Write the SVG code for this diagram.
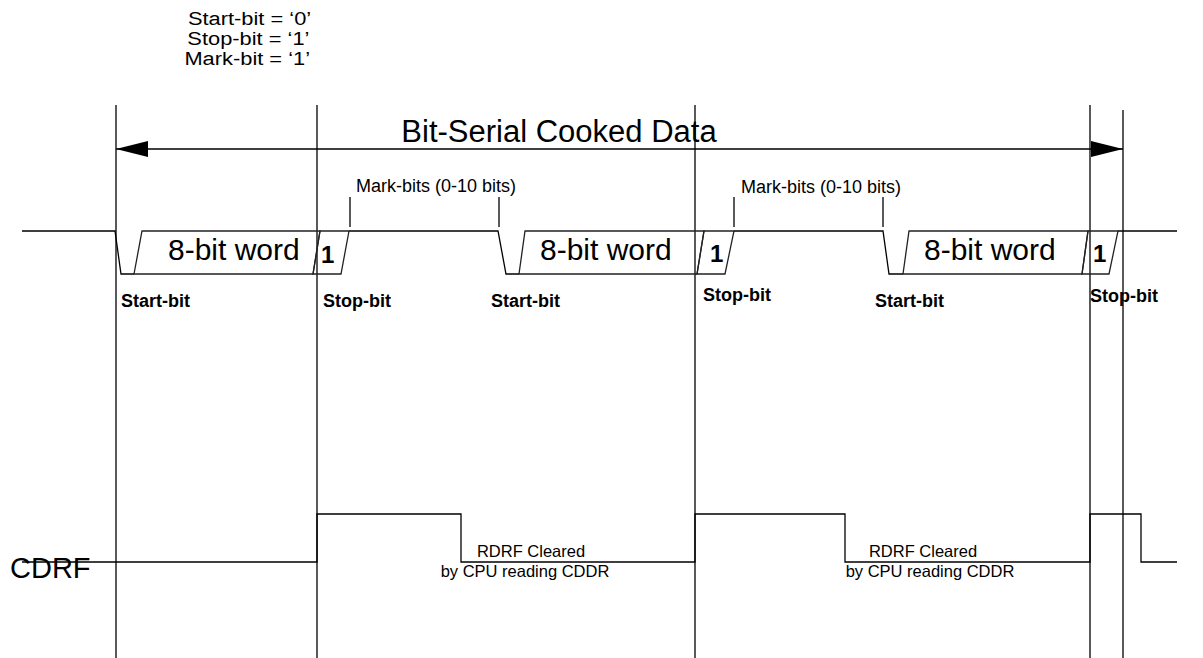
<svg xmlns="http://www.w3.org/2000/svg" width="1203" height="658" viewBox="0 0 1203 658">
<style>
.ln{fill:none;stroke:#000;stroke-width:1.3}
.bx{fill:none;stroke:#222;stroke-width:1.3;stroke-linejoin:miter}
.lb{font-family:"Liberation Sans",Arial,sans-serif;fill:#000}
.big{font-size:30px}
.bold{font-weight:bold;font-size:18px}
.sm{font-size:18px}
.mid{font-size:16.5px}
</style>
<defs>
<marker id="ah" viewBox="0 0 32 16" refX="32" refY="8" markerWidth="32" markerHeight="16" markerUnits="userSpaceOnUse" orient="auto-start-reverse">
<path d="M0,0 L32,8 L0,16 Z" fill="#000"/>
</marker>
</defs>
<rect width="1203" height="658" fill="#fff"/>
<g id="legend" class="lb" font-size="19" text-anchor="middle" transform="scale(1.15,1)">
<text x="217" y="25">Start-bit = ‘0’</text>
<text x="216" y="45">Stop-bit = ‘1’</text>
<text x="215" y="65">Mark-bit = ‘1’</text>
</g>
<g id="connectors">
<line class="ln" x1="116" y1="105" x2="116" y2="658"/>
<line class="ln" x1="317" y1="105" x2="317" y2="658"/>
<line class="ln" x1="695" y1="105" x2="695" y2="658"/>
<line class="ln" x1="1090" y1="105" x2="1090" y2="658"/>
<line class="ln" x1="1123" y1="110" x2="1123" y2="658"/>
<line class="ln" x1="116" y1="149" x2="1123" y2="149" marker-start="url(#ah)" marker-end="url(#ah)"/>
</g>
<g id="title" class="lb">
<text x="559" y="142" font-size="31" text-anchor="middle">Bit-Serial Cooked Data</text>
</g>
<g id="signal">
<path class="ln" d="M22,231 H115 L121,274 H134 M349,231 H498 L506,274 H519 M734,231 H883 L889,274 H903 M1118,231 H1177"/>
<polygon class="bx" points="142,231 320,231 313,274 134,274"/>
<polygon class="bx" points="320,231 349,231 341,274 313,274"/>
<polygon class="bx" points="525,231 704,231 697,274 519,274"/>
<polygon class="bx" points="704,231 734,231 725,274 697,274"/>
<polygon class="bx" points="909,231 1088,231 1082,274 903,274"/>
<polygon class="bx" points="1088,231 1118,231 1109,274 1082,274"/>
<line class="ln" x1="350" y1="197" x2="350" y2="227"/>
<line class="ln" x1="499" y1="197" x2="499" y2="227"/>
<line class="ln" x1="734" y1="197" x2="734" y2="227"/>
<line class="ln" x1="883" y1="197" x2="883" y2="227"/>
</g>
<g id="word1" class="lb">
<text class="big" x="168" y="260">8-bit word</text>
<text x="321" y="263" font-size="24" font-weight="bold">1</text>
<text class="bold" x="121" y="307">Start-bit</text>
<text class="bold" x="323" y="307">Stop-bit</text>
<text class="sm" x="356" y="192">Mark-bits (0-10 bits)</text>
</g>
<g id="word2" class="lb">
<text class="big" x="540" y="260">8-bit word</text>
<text x="710" y="262" font-size="24" font-weight="bold">1</text>
<text class="bold" x="491" y="307">Start-bit</text>
<text class="bold" x="703" y="301">Stop-bit</text>
<text class="sm" x="741" y="193">Mark-bits (0-10 bits)</text>
</g>
<g id="word3" class="lb">
<text class="big" x="924" y="260">8-bit word</text>
<text x="1093" y="262" font-size="24" font-weight="bold">1</text>
<text class="bold" x="875" y="307">Start-bit</text>
<text class="bold" x="1090" y="302">Stop-bit</text>
</g>
<g id="cdrf">
<text class="lb" x="10" y="578" font-size="29">CDRF</text>
<path class="ln" d="M22,562 H317 V514 H461 V562 H695 V514 H845 V562 H1090 V514 H1141 V562 H1177"/>
<text class="lb mid" x="531" y="557" text-anchor="middle">RDRF Cleared</text>
<text class="lb mid" x="525" y="577" text-anchor="middle">by CPU reading CDDR</text>
<text class="lb mid" x="923" y="557" text-anchor="middle">RDRF Cleared</text>
<text class="lb mid" x="930" y="577" text-anchor="middle">by CPU reading CDDR</text>
</g>
</svg>
